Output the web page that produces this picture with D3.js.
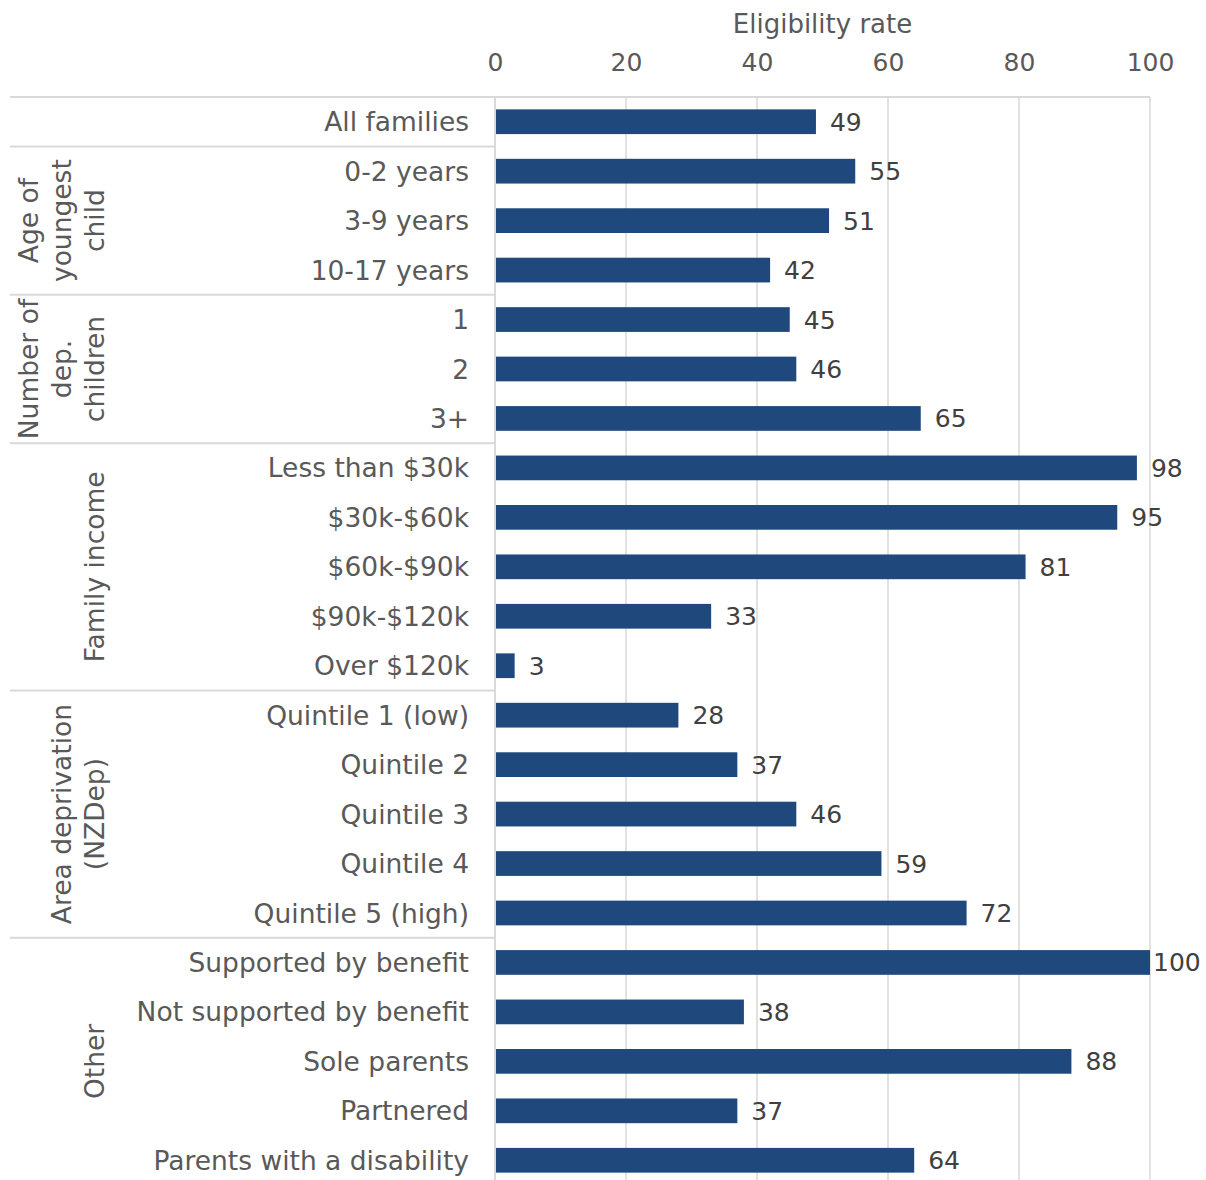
<!DOCTYPE html>
<html>
<head>
<meta charset="utf-8">
<script src="https://cdn.jsdelivr.net/npm/d3@7"></script>
<style>
  html, body { margin: 0; padding: 0; background: #fff; }
  svg { display: block; font-family: "DejaVu Sans", Verdana, sans-serif; }
</style>
</head>
<body>
<svg id="chart" width="1206" height="1180"></svg>
<script>
// Row labels, top to bottom
const categories = [
  "All families",
  "0-2 years", "3-9 years", "10-17 years",
  "1", "2", "3+",
  "Less than $30k", "$30k-$60k", "$60k-$90k", "$90k-$120k", "Over $120k",
  "Quintile 1 (low)", "Quintile 2", "Quintile 3", "Quintile 4", "Quintile 5 (high)",
  "Supported by benefit", "Not supported by benefit", "Sole parents", "Partnered", "Parents with a disability"
];

// Eligibility rate (%)
const values = [49, 55, 51, 42, 45, 46, 65, 98, 95, 81, 33, 3, 28, 37, 46, 59, 72, 100, 38, 88, 37, 64];

// Grouping of rows and the group captions (one entry per caption line)
const groupSizes = [1, 3, 3, 5, 5, 5];
const groupLabels = [
  [],
  ["Age of", "youngest", "child"],
  ["Number of", "dep.", "children"],
  ["Family income"],
  ["Area deprivation", "(NZDep)"],
  ["Other"]
];

const tickValues = [0, 20, 40, 60, 80, 100];
const axisTitle = "Eligibility rate";

const svg = d3.select("#chart");
const textColor = "#595959";
const gridColor = "#d9d9d9";
const barColor = "#1f497d";

const x0 = 495, x1 = 1150, yTop = 97, yBottom = 1185;

const x = d3.scaleLinear().domain([0, 100]).range([x0, x1]);
const y = d3.scaleBand().domain(d3.range(categories.length))
  .range([yTop, yBottom]).paddingInner(0.5).paddingOuter(0.25);

// vertical gridlines
svg.append("g").selectAll("line").data(tickValues.slice(1)).join("line")
  .attr("x1", d => x(d)).attr("x2", d => x(d))
  .attr("y1", yTop).attr("y2", yBottom)
  .attr("stroke", gridColor).attr("stroke-width", 1.5);

// top border across labels and plot
svg.append("line").attr("x1", 10).attr("x2", x1).attr("y1", yTop).attr("y2", yTop)
  .attr("stroke", gridColor).attr("stroke-width", 2);

// group separators in the label area
let acc = 0;
const groupBounds = groupSizes.map(n => { const s = acc; acc += n; return [s, acc]; });
const step = y.step();
const rowEdge = i => yTop + y.paddingOuter() * step + i * step - y.paddingInner() * step / 2;
svg.append("g").selectAll("line").data(groupBounds.slice(1)).join("line")
  .attr("x1", 10).attr("x2", x0)
  .attr("y1", d => rowEdge(d[0])).attr("y2", d => rowEdge(d[0]))
  .attr("stroke", gridColor).attr("stroke-width", 2);

// category axis line
svg.append("line").attr("x1", x0).attr("x2", x0).attr("y1", yTop).attr("y2", yBottom)
  .attr("stroke", gridColor).attr("stroke-width", 2);

// top value axis
const axis = svg.append("g").attr("transform", `translate(0,${yTop - 26})`)
  .call(d3.axisTop(x).tickValues(tickValues).tickSize(0).tickPadding(0));
axis.select(".domain").remove();
axis.selectAll("text").attr("fill", textColor).attr("font-size", 25)
  .attr("font-family", "'DejaVu Sans', Verdana, sans-serif");

svg.append("text").attr("x", (x0 + x1) / 2).attr("y", 33)
  .attr("text-anchor", "middle").attr("fill", textColor).attr("font-size", 26)
  .text(axisTitle);

// bars
svg.append("g").selectAll("rect").data(values).join("rect")
  .attr("x", x(0) + 1).attr("y", (d, i) => y(i))
  .attr("width", d => Math.max(0, x(d) - x(0) - 1)).attr("height", y.bandwidth())
  .attr("fill", barColor);

// value labels
svg.append("g").selectAll("text").data(values).join("text")
  .attr("x", d => Math.min(x(d) + 14, 1153))
  .attr("y", (d, i) => y(i) + y.bandwidth() / 2)
  .attr("dy", "0.36em").attr("fill", "#404040").attr("font-size", 25)
  .text(d => d);

// category labels
svg.append("g").selectAll("text").data(categories).join("text")
  .attr("x", 469).attr("y", (d, i) => y(i) + y.bandwidth() / 2)
  .attr("dy", "0.36em").attr("text-anchor", "end")
  .attr("fill", textColor).attr("font-size", 26.5)
  .text(d => d);

// rotated group captions
groupLabels.forEach((lines, gi) => {
  if (!lines.length) return;
  const [s, e] = groupBounds[gi];
  const yc = (rowEdge(s) + rowEdge(e)) / 2;
  lines.forEach((line, li) => {
    const xb = 104 - (lines.length - 1 - li) * 33;
    svg.append("text")
      .attr("transform", `translate(${xb},${yc}) rotate(-90)`)
      .attr("text-anchor", "middle").attr("fill", textColor).attr("font-size", 26.5)
      .text(line);
  });
});
</script>
</body>
</html>
